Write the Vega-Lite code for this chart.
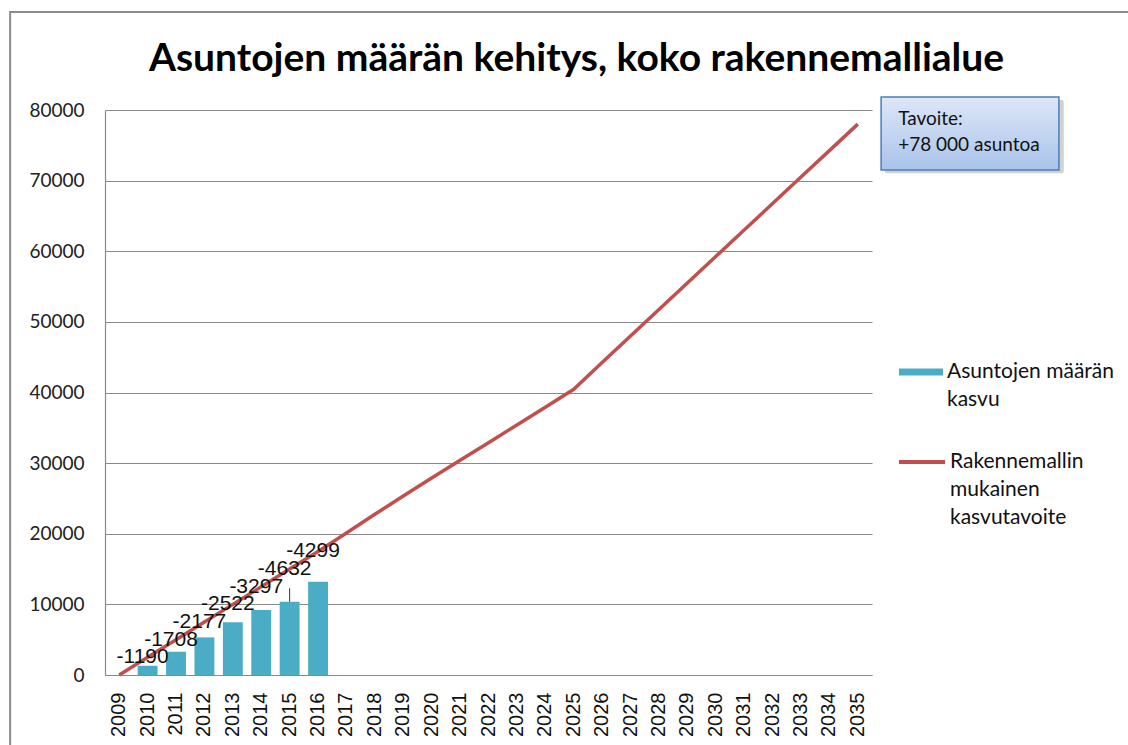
{
  "$schema": "https://vega.github.io/schema/vega-lite/v6.json",
  "width": 767,
  "height": 565,
  "autosize": {"type": "none"},
  "padding": {"left": 105, "top": 110, "right": 256, "bottom": 70},
  "background": "white",
  "config": {"view": {"stroke": null}, "font": "Lato"},
  "title": {
    "text": "Asuntojen määrän kehitys, koko rakennemallialue",
    "font": "Lato",
    "fontSize": 39,
    "fontWeight": "bold",
    "color": "#000000",
    "anchor": "middle",
    "frame": "group",
    "dx": 88,
    "offset": 0,
    "dy": 68
  },
  "datasets": {
    "main": [
      {"year": "2009", "target": 0, "built": null, "diff": null},
      {"year": "2010", "target": 2500, "built": 1310, "diff": "-1190"},
      {"year": "2011", "target": 5000, "built": 3292, "diff": "-1708"},
      {"year": "2012", "target": 7500, "built": 5323, "diff": "-2177"},
      {"year": "2013", "target": 10000, "built": 7478, "diff": "-2522"},
      {"year": "2014", "target": 12500, "built": 9203, "diff": "-3297"},
      {"year": "2015", "target": 15000, "built": 10368, "diff": "-4632"},
      {"year": "2016", "target": 17500, "built": 13201, "diff": "-4299"},
      {"year": "2017", "target": 20100, "built": null, "diff": null},
      {"year": "2018", "target": 22750, "built": null, "diff": null},
      {"year": "2019", "target": 25350, "built": null, "diff": null},
      {"year": "2020", "target": 27900, "built": null, "diff": null},
      {"year": "2021", "target": 30400, "built": null, "diff": null},
      {"year": "2022", "target": 32900, "built": null, "diff": null},
      {"year": "2023", "target": 35400, "built": null, "diff": null},
      {"year": "2024", "target": 37900, "built": null, "diff": null},
      {"year": "2025", "target": 40450, "built": null, "diff": null},
      {"year": "2026", "target": 44250, "built": null, "diff": null},
      {"year": "2027", "target": 48000, "built": null, "diff": null},
      {"year": "2028", "target": 51750, "built": null, "diff": null},
      {"year": "2029", "target": 55500, "built": null, "diff": null},
      {"year": "2030", "target": 59250, "built": null, "diff": null},
      {"year": "2031", "target": 63000, "built": null, "diff": null},
      {"year": "2032", "target": 66750, "built": null, "diff": null},
      {"year": "2033", "target": 70500, "built": null, "diff": null},
      {"year": "2034", "target": 74250, "built": null, "diff": null},
      {"year": "2035", "target": 78000, "built": null, "diff": null}
    ],
    "leader": [{"year": "2015", "from": 10368, "to": 12300}],
    "frame": [{"x1": 2005.16, "x2": 2046, "y1": -15000, "y2": 93876}],
    "box": [{"x1": 2035.82, "x2": 2042.08, "y1": 71500, "y2": 81840}],
    "shadow": [{"x1": 2035.95, "x2": 2042.25, "y1": 71050, "y2": 81400}],
    "boxtext": [
      {"x": 2036.42, "y": 78700, "label": "Tavoite:"},
      {"x": 2036.42, "y": 75100, "label": "+78 000 asuntoa"}
    ]
  },
  "layer": [
    {
      "layer": [
        {
          "data": {"name": "main"},
          "transform": [{"filter": "datum.built != null"}],
          "mark": {"type": "bar", "color": "#4BACC6"},
          "encoding": {
            "x": {
              "field": "year", "type": "ordinal",
              "scale": {"domain": ["2009","2010","2011","2012","2013","2014","2015","2016","2017","2018","2019","2020","2021","2022","2023","2024","2025","2026","2027","2028","2029","2030","2031","2032","2033","2034","2035"], "paddingInner": 0.3, "paddingOuter": 0.15},
              "axis": {
                "title": null, "labelAngle": -90, "labelFont": "Liberation Sans", "labelFontSize": 20,
                "labelColor": "#111111", "ticks": false, "labelPadding": 17, "domainColor": "#8a8a8a", "domainWidth": 1.2
              }
            },
            "y": {
              "field": "built", "type": "quantitative",
              "scale": {"domain": [0, 80000], "nice": false},
              "axis": {
                "title": null, "values": [0,10000,20000,30000,40000,50000,60000,70000,80000], "format": "d",
                "labelFont": "Lato", "labelFontSize": 19, "labelColor": "#222222", "ticks": false, "labelPadding": 21,
                "gridColor": "#8a8a8a", "gridWidth": 1.2, "domainColor": "#8a8a8a", "domainWidth": 1.2
              }
            },
            "fill": {
              "datum": "Asuntojen määrän|kasvu",
              "scale": {"range": ["#4BACC6"]},
              "legend": {
                "title": null, "orient": "none", "legendX": 794, "legendY": 240, "padding": 0,
                "symbolType": "M-1,-0.16H1V0.16H-1Z", "symbolSize": 1936, "symbolStrokeWidth": 0,
                "labelExpr": "split(datum.label, '|')", "labelFont": "Lato", "labelFontSize": 21,
                "labelColor": "#111111", "labelLimit": 400, "labelOffset": 4, "labelBaseline": "top",
                "encode": {"labels": {"update": {"dy": {"value": -11}, "lineHeight": {"value": 28}}}}
              }
            }
          }
        },
        {
          "data": {"name": "main"},
          "mark": {"type": "line", "strokeWidth": 3.5},
          "encoding": {
            "x": {"field": "year", "type": "ordinal"},
            "y": {"field": "target", "type": "quantitative"},
            "stroke": {
              "datum": "Rakennemallin|mukainen|kasvutavoite",
              "scale": {"range": ["#C0504D"]},
              "legend": {
                "title": null, "orient": "none", "legendX": 792, "legendY": 327, "padding": 0,
                "symbolType": "stroke", "symbolSize": 2116, "symbolStrokeWidth": 4,
                "labelExpr": "split(datum.label, '|')", "labelFont": "Lato", "labelFontSize": 21,
                "labelColor": "#111111", "labelLimit": 400, "labelOffset": 3, "labelBaseline": "top",
                "encode": {"labels": {"update": {"dy": {"value": -11}, "lineHeight": {"value": 28}}}}
              }
            }
          }
        },
        {
          "data": {"name": "leader"},
          "mark": {"type": "rule", "color": "#333333", "strokeWidth": 1},
          "encoding": {
            "x": {"field": "year", "type": "ordinal"},
            "y": {"field": "from", "type": "quantitative"},
            "y2": {"field": "to"}
          }
        },
        {
          "data": {"name": "main"},
          "transform": [{"filter": "datum.diff != null"}],
          "mark": {"type": "text", "font": "Liberation Sans", "fontSize": 21, "color": "#111111", "dx": -5, "dy": 0, "baseline": "middle"},
          "encoding": {
            "x": {"field": "year", "type": "ordinal"},
            "y": {"field": "target", "type": "quantitative"},
            "text": {"field": "diff"}
          }
        }
      ]
    },
    {
      "data": {"name": "frame"},
      "mark": {"type": "rect", "fill": null, "stroke": "#8c8c8c", "strokeWidth": 2, "clip": false},
      "encoding": {
        "x": {"field": "x1", "type": "quantitative", "scale": {"domain": [2008.5, 2035.5], "nice": false, "zero": false}, "axis": null},
        "x2": {"field": "x2"},
        "y": {"field": "y1", "type": "quantitative", "scale": {"domain": [0, 80000], "nice": false}, "axis": null},
        "y2": {"field": "y2"}
      }
    },
    {
      "data": {"name": "shadow"},
      "mark": {"type": "rect", "fill": "#9a9a9a", "opacity": 0.45, "cornerRadius": 2},
      "encoding": {
        "x": {"field": "x1", "type": "quantitative", "scale": {"domain": [2008.5, 2035.5], "nice": false, "zero": false}, "axis": null},
        "x2": {"field": "x2"},
        "y": {"field": "y1", "type": "quantitative", "scale": {"domain": [0, 80000], "nice": false}, "axis": null},
        "y2": {"field": "y2"}
      }
    },
    {
      "data": {"name": "box"},
      "mark": {
        "type": "rect", "stroke": "#4A7EBB", "strokeWidth": 1.5,
        "fill": {"gradient": "linear", "x1": 0, "y1": 0, "x2": 0, "y2": 1, "stops": [{"offset": 0, "color": "#DDE7F7"}, {"offset": 1, "color": "#A9C3EB"}]}
      },
      "encoding": {
        "x": {"field": "x1", "type": "quantitative", "scale": {"domain": [2008.5, 2035.5], "nice": false, "zero": false}, "axis": null},
        "x2": {"field": "x2"},
        "y": {"field": "y1", "type": "quantitative", "scale": {"domain": [0, 80000], "nice": false}, "axis": null},
        "y2": {"field": "y2"}
      }
    },
    {
      "data": {"name": "boxtext"},
      "mark": {"type": "text", "font": "Lato", "fontSize": 19, "color": "#111111", "align": "left", "baseline": "middle"},
      "encoding": {
        "x": {"field": "x", "type": "quantitative", "scale": {"domain": [2008.5, 2035.5], "nice": false, "zero": false}, "axis": null},
        "y": {"field": "y", "type": "quantitative", "scale": {"domain": [0, 80000], "nice": false}, "axis": null},
        "text": {"field": "label"}
      }
    }
  ],
  "resolve": {"scale": {"x": "independent", "y": "independent"}, "axis": {"x": "independent", "y": "independent"}}
}
